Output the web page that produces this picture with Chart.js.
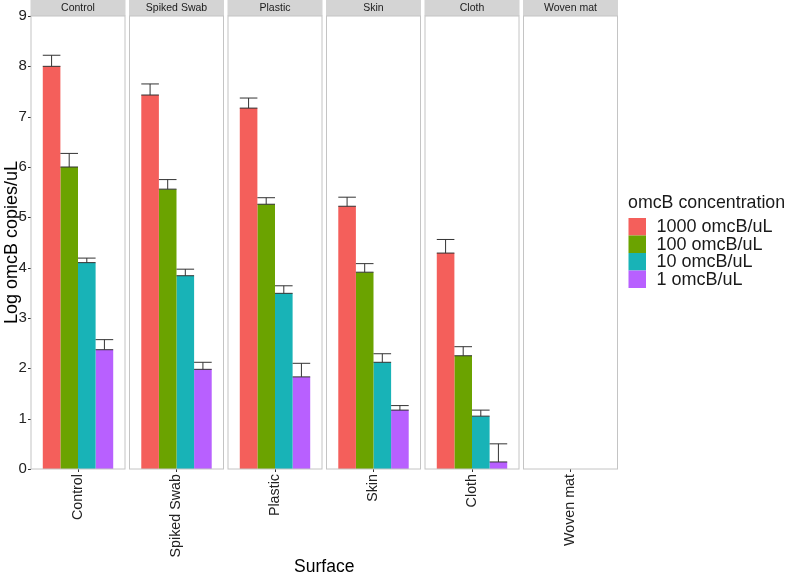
<!DOCTYPE html>
<html><head><meta charset="utf-8">
<script src="https://cdn.jsdelivr.net/npm/chart.js@4.4.0/dist/chart.umd.min.js"></script>
<style>html,body{margin:0;padding:0;background:#fff}#wrap{width:788px;height:574px;position:relative}canvas{display:block}</style>
</head><body><div id="wrap"><canvas id="c" width="788" height="574"></canvas></div>
<script>
const surfaces = ['Control', 'Spiked Swab', 'Plastic', 'Skin', 'Cloth', 'Woven mat'];
const seriesNames = ['1000 omcB/uL', '100 omcB/uL', '10 omcB/uL', '1 omcB/uL'];
const mean1000 = [8.00, 7.43, 7.17, 5.22, 4.29, 0];
const mean100  = [6.00, 5.56, 5.26, 3.91, 2.25, 0];
const mean10   = [4.10, 3.84, 3.49, 2.12, 1.05, 0];
const mean1    = [2.37, 1.98, 1.83, 1.17, 0.14, 0];
const err1000  = [0.22, 0.22, 0.20, 0.18, 0.27, null];
const err100   = [0.27, 0.19, 0.13, 0.17, 0.18, null];
const err10    = [0.09, 0.13, 0.15, 0.17, 0.12, null];
const err1     = [0.20, 0.14, 0.27, 0.09, 0.36, null];
const yTickValues = [0, 1, 2, 3, 4, 5, 6, 7, 8, 9];
const colors = ['#F45F5B', '#6BA300', '#18B3B7', '#B860FF'];

const means = [mean1000, mean100, mean10, mean1];
const errs = [err1000, err100, err10, err1];

const FONT = 'Liberation Sans, Arial, Helvetica, sans-serif';
const PANEL_GAP = 4.5;

function panelRect(chart, i) {
  const xs = chart.scales.x;
  const w = (xs.right - xs.left) / surfaces.length;
  const cx = xs.getPixelForValue(i);
  const half = (w - PANEL_GAP) / 2;
  return { l: cx - half, r: cx + half };
}

const facetPlugin = {
  id: 'facets',
  beforeDatasetsDraw(chart) {
    const ctx = chart.ctx;
    const ca = chart.chartArea;
    ctx.save();
    for (let i = 0; i < surfaces.length; i++) {
      const p = panelRect(chart, i);
      ctx.fillStyle = '#D4D4D4';
      ctx.fillRect(p.l - 0.5, 0, p.r - p.l + 1, ca.top);
      ctx.fillStyle = '#1A1A1A';
      ctx.font = '10.5px ' + FONT;
      ctx.textAlign = 'center';
      ctx.textBaseline = 'middle';
      ctx.fillText(surfaces[i], (p.l + p.r) / 2, ca.top / 2 + 0.5);
    }
    const p0 = panelRect(chart, 0);
    ctx.strokeStyle = '#333333';
    ctx.lineWidth = 1;
    yTickValues.forEach(v => {
      const y = Math.round(chart.scales.y.getPixelForValue(v)) + 0.5;
      ctx.beginPath();
      ctx.moveTo(p0.l - 3, y);
      ctx.lineTo(p0.l, y);
      ctx.stroke();
    });
    ctx.restore();
  },
  afterDatasetsDraw(chart) {
    const ctx = chart.ctx;
    const ys = chart.scales.y;
    const ca = chart.chartArea;
    ctx.save();
    ctx.strokeStyle = '#333333';
    ctx.lineWidth = 1;
    errs.forEach((errArr, d) => {
      const meta = chart.getDatasetMeta(d);
      meta.data.forEach((bar, i) => {
        const e = errArr[i];
        if (e === null || e === undefined) return;
        const m = means[d][i];
        const y0 = ys.getPixelForValue(m);
        const y1 = ys.getPixelForValue(m + e);
        const hw = bar.width / 2;
        ctx.beginPath();
        ctx.moveTo(bar.x, y0); ctx.lineTo(bar.x, y1);
        ctx.moveTo(bar.x - hw, y1); ctx.lineTo(bar.x + hw, y1);
        ctx.moveTo(bar.x - hw, y0); ctx.lineTo(bar.x + hw, y0);
        ctx.stroke();
      });
    });
    ctx.strokeStyle = '#C4C4C4';
    ctx.lineWidth = 1;
    for (let i = 0; i < surfaces.length; i++) {
      const p = panelRect(chart, i);
      ctx.strokeRect(p.l, ca.top, p.r - p.l, ca.bottom - ca.top);
    }
    ctx.restore();
  },
  afterDraw(chart) {
    const ctx = chart.ctx;
    ctx.save();
    ctx.fillStyle = '#1A1A1A';
    ctx.font = '17.8px ' + FONT;
    ctx.textAlign = 'left';
    ctx.textBaseline = 'alphabetic';
    ctx.fillText('omcB concentration', 628, 208);
    ctx.font = '18px ' + FONT;
    const keyX = 628.5, keyY = 218, key = 17.5;
    seriesNames.forEach((n, k) => {
      const y = keyY + k * key;
      ctx.fillStyle = colors[k];
      ctx.fillRect(keyX, y, key, key);
      ctx.fillStyle = '#1A1A1A';
      ctx.textBaseline = 'middle';
      ctx.fillText(n, 656.5, y + key / 2 + 0.5);
    });
    ctx.restore();
  }
};

new Chart(document.getElementById('c'), {
  type: 'bar',
  data: {
    labels: surfaces,
    datasets: seriesNames.map((n, k) => ({
      label: n,
      data: means[k],
      backgroundColor: colors[k],
      borderWidth: 0,
      categoryPercentage: 0.715,
      barPercentage: 1.0
    }))
  },
  options: {
    responsive: false,
    devicePixelRatio: 1,
    animation: false,
    layout: { padding: { top: 16, right: 168.25, left: 0, bottom: 0 } },
    plugins: { legend: { display: false }, tooltip: { enabled: false } },
    scales: {
      x: {
        type: 'category',
        offset: true,
        grid: { display: true, drawOnChartArea: false, offset: false, tickLength: 3, color: '#333333', lineWidth: 1 },
        border: { display: false },
        ticks: { maxRotation: 90, minRotation: 90, padding: 2, autoSkip: false, color: '#222222', font: { family: FONT, size: 14.3 } },
        title: { display: true, text: 'Surface', color: '#000000', font: { family: FONT, size: 17.5, lineHeight: 1 }, padding: { top: 0, bottom: -1.5 } },
        afterFit(s) { s.height = 105; }
      },
      y: {
        min: 0, max: 9,
        afterBuildTicks(s) { s.ticks = yTickValues.map(v => ({ value: v })); },
        grid: { display: false, drawTicks: false, tickLength: 0 },
        border: { display: false },
        ticks: { padding: 2, color: '#222222', font: { family: FONT, size: 15 } },
        title: { display: true, text: 'Log omcB copies/uL', color: '#000000', font: { family: FONT, size: 18, lineHeight: 1.2 }, padding: { top: 1.5, bottom: 0 } },
        afterFit(s) { s.width = 28.75; }
      }
    }
  },
  plugins: [facetPlugin]
});
</script>
</body></html>
